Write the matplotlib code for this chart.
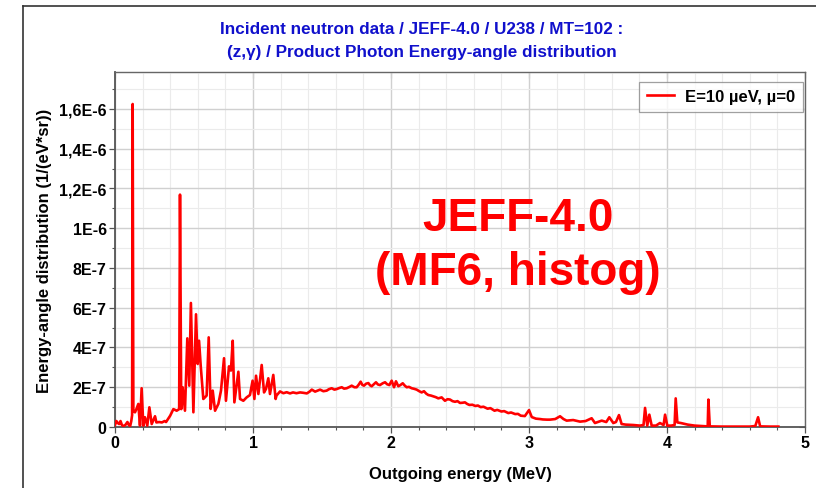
import matplotlib
matplotlib.use("Agg")
import numpy as np
import matplotlib.pyplot as plt
from matplotlib.lines import Line2D
from matplotlib.ticker import MultipleLocator

# Outgoing photon energy (MeV) and energy-angle distribution (units of 1E-7 1/(eV*sr))
energy_mev = [
    0.000, 0.010, 0.020, 0.030, 0.040, 0.050, 0.060, 0.075, 0.090, 0.100,
    0.110, 0.118, 0.124, 0.128, 0.133, 0.145, 0.155, 0.169, 0.181, 0.193,
    0.205, 0.217, 0.234, 0.249, 0.266, 0.290, 0.300, 0.320, 0.340, 0.360,
    0.370, 0.400, 0.423, 0.447, 0.465, 0.471, 0.480, 0.490, 0.507, 0.524,
    0.538, 0.550, 0.568, 0.587, 0.599, 0.609, 0.621, 0.640, 0.664, 0.679,
    0.693, 0.708, 0.725, 0.749, 0.768, 0.790, 0.804, 0.826, 0.840, 0.853,
    0.865, 0.894, 0.906, 0.930, 0.954, 0.978, 0.997, 1.010, 1.022, 1.039,
    1.063, 1.080, 1.094, 1.111, 1.123, 1.147, 1.164, 1.170, 1.196, 1.220,
    1.244, 1.268, 1.290, 1.315, 1.341, 1.365, 1.390, 1.410, 1.426, 1.450,
    1.468, 1.486, 1.510, 1.534, 1.550, 1.570, 1.590, 1.607, 1.625, 1.643,
    1.660, 1.679, 1.700, 1.715, 1.735, 1.751, 1.765, 1.780, 1.792, 1.804,
    1.820, 1.836, 1.848, 1.860, 1.875, 1.891, 1.905, 1.920, 1.940, 1.957,
    1.972, 1.988, 2.005, 2.022, 2.036, 2.053, 2.070, 2.085, 2.100, 2.114,
    2.130, 2.150, 2.168, 2.186, 2.205, 2.222, 2.239, 2.255, 2.270, 2.290,
    2.307, 2.325, 2.343, 2.367, 2.391, 2.410, 2.428, 2.446, 2.464, 2.482,
    2.500, 2.518, 2.536, 2.552, 2.568, 2.590, 2.610, 2.630, 2.650, 2.670,
    2.700, 2.720, 2.750, 2.770, 2.800, 2.820, 2.850, 2.870, 2.900, 2.920,
    2.940, 2.970, 3.000, 3.020, 3.050, 3.080, 3.100, 3.130, 3.152, 3.190,
    3.225, 3.250, 3.273, 3.320, 3.370, 3.410, 3.454, 3.478, 3.527, 3.560,
    3.582, 3.611, 3.630, 3.652, 3.671, 3.700, 3.756, 3.804, 3.830, 3.841,
    3.857, 3.872, 3.889, 3.920, 3.949, 3.975, 3.986, 4.002, 4.030, 4.055,
    4.063, 4.075, 4.100, 4.150, 4.200, 4.250, 4.295, 4.300, 4.310, 4.400,
    4.500, 4.600, 4.640, 4.660, 4.675, 4.750, 4.807,
]
dist_e7 = [
    0.10, 0.30, 0.20, 0.15, 0.30, 0.10, 0.05, 0.10, 0.25, 0.10,
    0.05, 0.30, 0.60, 16.25, 0.80, 0.74, 0.90, 1.16, 0.07, 1.95,
    0.07, 0.49, 0.07, 0.99, 0.15, 0.54, 0.23, 0.25, 0.23, 0.30,
    0.25, 0.57, 0.90, 0.82, 0.90, 11.69, 0.90, 2.00, 0.82, 4.46,
    2.08, 6.24, 0.74, 5.67, 3.17, 4.34, 3.09, 1.41, 1.58, 4.51,
    0.91, 1.83, 0.82, 1.16, 1.83, 3.46, 1.32, 3.05, 2.84, 4.34,
    1.24, 2.78, 1.41, 1.32, 1.49, 1.61, 2.33, 1.41, 2.58, 1.66,
    3.12, 1.74, 1.91, 2.45, 1.66, 2.62, 1.41, 1.58, 1.79, 1.70,
    1.75, 1.69, 1.74, 1.70, 1.74, 1.72, 1.69, 1.78, 1.88, 1.78,
    1.83, 1.88, 1.80, 1.83, 1.90, 1.95, 1.88, 1.91, 1.96, 2.00,
    1.93, 1.95, 2.02, 2.08, 2.00, 2.00, 2.12, 2.28, 2.12, 2.08,
    2.18, 2.21, 2.10, 2.05, 2.15, 2.25, 2.14, 2.11, 2.20, 2.25,
    2.15, 2.11, 2.33, 2.00, 2.30, 2.05, 2.12, 2.20, 2.08, 2.00,
    2.02, 1.95, 1.92, 1.88, 1.80, 1.74, 1.80, 1.68, 1.61, 1.58,
    1.54, 1.50, 1.44, 1.49, 1.32, 1.40, 1.38, 1.30, 1.27, 1.30,
    1.21, 1.22, 1.24, 1.16, 1.11, 1.12, 1.06, 1.08, 1.00, 1.02,
    0.92, 0.95, 0.82, 0.86, 0.78, 0.80, 0.70, 0.73, 0.65, 0.66,
    0.57, 0.55, 0.85, 0.50, 0.42, 0.40, 0.38, 0.37, 0.37, 0.40,
    0.54, 0.40, 0.32, 0.35, 0.27, 0.30, 0.44, 0.20, 0.32, 0.25,
    0.49, 0.20, 0.25, 0.60, 0.15, 0.12, 0.10, 0.07, 0.10, 0.96,
    0.07, 0.62, 0.07, 0.07, 0.20, 0.10, 0.62, 0.07, 0.07, 0.10,
    1.44, 0.23, 0.20, 0.12, 0.07, 0.05, 0.03, 1.38, 0.03, 0.02,
    0.02, 0.02, 0.05, 0.49, 0.03, 0.02, 0.02,
]

x_ticks = [0, 1, 2, 3, 4, 5]
y_ticks = [0, 2e-7, 4e-7, 6e-7, 8e-7, 1e-6, 1.2e-6, 1.4e-6, 1.6e-6]
y_tick_labels = ["0", "2E-7", "4E-7", "6E-7", "8E-7", "1E-6", "1,2E-6", "1,4E-6", "1,6E-6"]

title_lines = [
    "Incident neutron data / JEFF-4.0 / U238 / MT=102 :",
    "(z,\u03b3) / Product Photon Energy-angle distribution",
]
legend_label = "E=10 \u00b5eV, \u00b5=0"
stamp_lines = ["JEFF-4.0", "(MF6, histog)"]

plt.rcParams["font.family"] = ["Liberation Sans", "DejaVu Sans"]

W, H = 816, 489
fig = plt.figure(figsize=(W / 100, H / 100), dpi=100)
fig.patch.set_facecolor("white")

# axes box in pixels: x 115..805, y 73..428
ax = fig.add_axes([115 / W, 1 - 428 / H, 690 / W, 355 / H])

y_vals = np.array(dist_e7) * 1e-7
ax.plot(energy_mev, y_vals, color="#ff0000", lw=1.9, label=legend_label, zorder=3)

ax.set_xlim(0, 5)
ax.set_ylim(0, 1.786e-6)

ax.set_xticks(x_ticks)
ax.set_xticklabels([str(t) for t in x_ticks])
ax.xaxis.set_minor_locator(MultipleLocator(0.2))
ax.set_yticks(y_ticks)
ax.set_yticklabels(y_tick_labels)
ax.yaxis.set_minor_locator(MultipleLocator(1e-7))

ax.grid(which="major", color="#d0d0d0", lw=1.0, zorder=0)
ax.grid(which="minor", color="#ebebeb", lw=0.8, zorder=0)
ax.set_axisbelow(True)

ax.tick_params(which="major", direction="out", length=4, width=0.9, color="#555555",
               labelsize=11.5, pad=2)
ax.tick_params(which="minor", direction="out", length=2.5, width=0.8, color="#555555")
for lab in ax.get_xticklabels() + ax.get_yticklabels():
    lab.set_fontweight("bold")

for side in ["left", "bottom"]:
    ax.spines[side].set_color("#555555")
    ax.spines[side].set_linewidth(1.3)
for side in ["top", "right"]:
    ax.spines[side].set_color("#666666")
    ax.spines[side].set_linewidth(0.9)

# inward mirror ticks on top and right
top = ax.secondary_xaxis("top")
top.set_xticks(x_ticks)
top.xaxis.set_minor_locator(MultipleLocator(0.2))
top.tick_params(which="both", direction="in", labeltop=False, color="#666666")
top.tick_params(which="major", length=4)
top.tick_params(which="minor", length=2.5)
right = ax.secondary_yaxis("right")
right.set_yticks(y_ticks)
right.yaxis.set_minor_locator(MultipleLocator(1e-7))
right.tick_params(which="both", direction="in", labelright=False, color="#666666")
right.tick_params(which="major", length=4)
right.tick_params(which="minor", length=2.5)

ax.set_xlabel("Outgoing energy (MeV)", fontsize=12, fontweight="bold", labelpad=11)
ax.set_ylabel("Energy-angle distribution (1/(eV*sr))", fontsize=12,
              fontweight="bold", labelpad=5)

leg = ax.legend(loc="upper right", bbox_to_anchor=(0.997, 0.973), fontsize=12,
                frameon=True, fancybox=False, handlelength=1.6, handletextpad=0.7,
                borderpad=0.45, borderaxespad=0.0)
leg.get_frame().set_edgecolor("#888888")
leg.get_frame().set_linewidth(0.9)
for t in leg.get_texts():
    t.set_fontweight("bold")

# title, two centred lines
fig.text(422 / W, 1 - 30 / H, title_lines[0], ha="center", va="center",
         fontsize=12.3, fontweight="bold", color="#1010cc")
fig.text(422 / W, 1 - 52 / H, title_lines[1], ha="center", va="center",
         fontsize=12.3, fontweight="bold", color="#1010cc")

# big red stamp inside the plot
fig.text(518 / W, 1 - 231 / H, stamp_lines[0], ha="center", va="baseline",
         fontsize=33, fontweight="bold", color="#ff0000")
fig.text(518 / W, 1 - 285 / H, stamp_lines[1], ha="center", va="baseline",
         fontsize=33, fontweight="bold", color="#ff0000")

# outer panel border (left and top edges)
fig.add_artist(Line2D([23 / W, 23 / W], [0, 1 - 7 / H], color="#333333", lw=1.2))
fig.add_artist(Line2D([23 / W, 1], [1 - 7 / H, 1 - 7 / H], color="#333333", lw=1.2))

fig.savefig("out.png", dpi=100)
